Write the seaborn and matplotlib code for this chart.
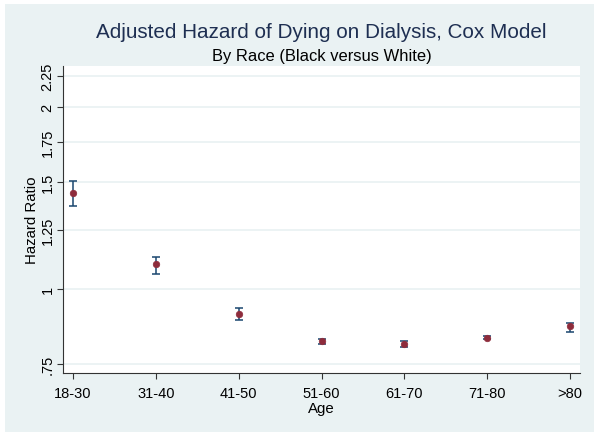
import numpy as np
import pandas as pd
import matplotlib
matplotlib.use("Agg")
import matplotlib.pyplot as plt
import seaborn as sns
from matplotlib.patches import Rectangle
from matplotlib.ticker import FixedLocator, FixedFormatter, NullLocator

# ---- data ----
age_groups = ["18-30", "31-40", "41-50", "51-60", "61-70", "71-80", ">80"]
hazard_ratio = [1.439, 1.099, 0.908, 0.819, 0.808, 0.829, 0.867]
ci_lower = [1.369, 1.058, 0.887, 0.808, 0.799, 0.824, 0.848]
ci_upper = [1.506, 1.127, 0.927, 0.826, 0.818, 0.836, 0.878]
y_ticks = [0.75, 1.0, 1.25, 1.5, 1.75, 2.0, 2.25]
y_tick_labels = [".75", "1", "1.25", "1.5", "1.75", "2", "2.25"]

df = pd.DataFrame({"age": age_groups, "hr": hazard_ratio,
                   "lo": ci_lower, "hi": ci_upper})
df["pos"] = np.arange(len(df))

sns.set_theme(style="white")
plt.rcParams["font.family"] = ["Liberation Sans", "DejaVu Sans"]

W, H = 600, 439
fig = plt.figure(figsize=(W / 100, H / 100), dpi=100, facecolor="white")

outer = "#EAF2F3"
fig.patches.append(Rectangle((5 / W, 1 - 433 / H), 589 / W, 428 / H,
                             transform=fig.transFigure, facecolor=outer,
                             edgecolor="none", zorder=-5))

ax = fig.add_axes([63 / W, 1 - 374 / H, 517 / W, 307 / H])
ax.set_zorder(1)
ax.set_facecolor("white")

navy = "#1A476F"
maroon = "#8E2C3C"

ax.set_yscale("log")
ax.errorbar(df["pos"], df["hr"],
            yerr=[df["hr"] - df["lo"], df["hi"] - df["hr"]],
            fmt="none", ecolor=navy, elinewidth=1.1, capsize=3.2,
            capthick=1.1, zorder=3)
sns.scatterplot(data=df, x="pos", y="hr", ax=ax, color=maroon, s=22,
                edgecolor=maroon, linewidth=0.5, zorder=4, legend=False)

ax.set_ylim(0.7247, 2.338)
ax.set_xlim(-0.12, 6.12)

ax.yaxis.set_major_locator(FixedLocator(y_ticks))
ax.yaxis.set_major_formatter(FixedFormatter(y_tick_labels))
ax.yaxis.set_minor_locator(NullLocator())
ax.set_xticks(df["pos"])
ax.set_xticklabels(age_groups)

for lab in ax.get_yticklabels():
    lab.set_rotation(90)
    lab.set_va("center")

ax.grid(axis="y", color=outer, linewidth=1.3)
ax.grid(axis="x", visible=False)
ax.set_axisbelow(True)

for s in ["top", "right"]:
    ax.spines[s].set_visible(False)
for s in ["left", "bottom"]:
    ax.spines[s].set_color("#333333")
    ax.spines[s].set_linewidth(0.8)

ax.tick_params(axis="both", which="major", length=4, width=0.8,
               color="#333333", labelsize=10.5, labelcolor="black",
               left=True, bottom=True)
ax.tick_params(axis="x", pad=5)
ax.tick_params(axis="y", pad=2)

ax.set_xlabel("Age", fontsize=10.8, color="black", labelpad=1)
ax.set_ylabel("Hazard Ratio", fontsize=10.8, color="black", labelpad=1)

cx = (63 + 580) / 2 / W
fig.text(cx, 1 - 33 / H, "Adjusted Hazard of Dying on Dialysis, Cox Model",
         ha="center", va="center", fontsize=14.9, color="#1E2F52")
fig.text(cx, 1 - 56 / H, "By Race (Black versus White)",
         ha="center", va="center", fontsize=11.9, color="black")

fig.savefig("out.png", dpi=100, facecolor="white")
